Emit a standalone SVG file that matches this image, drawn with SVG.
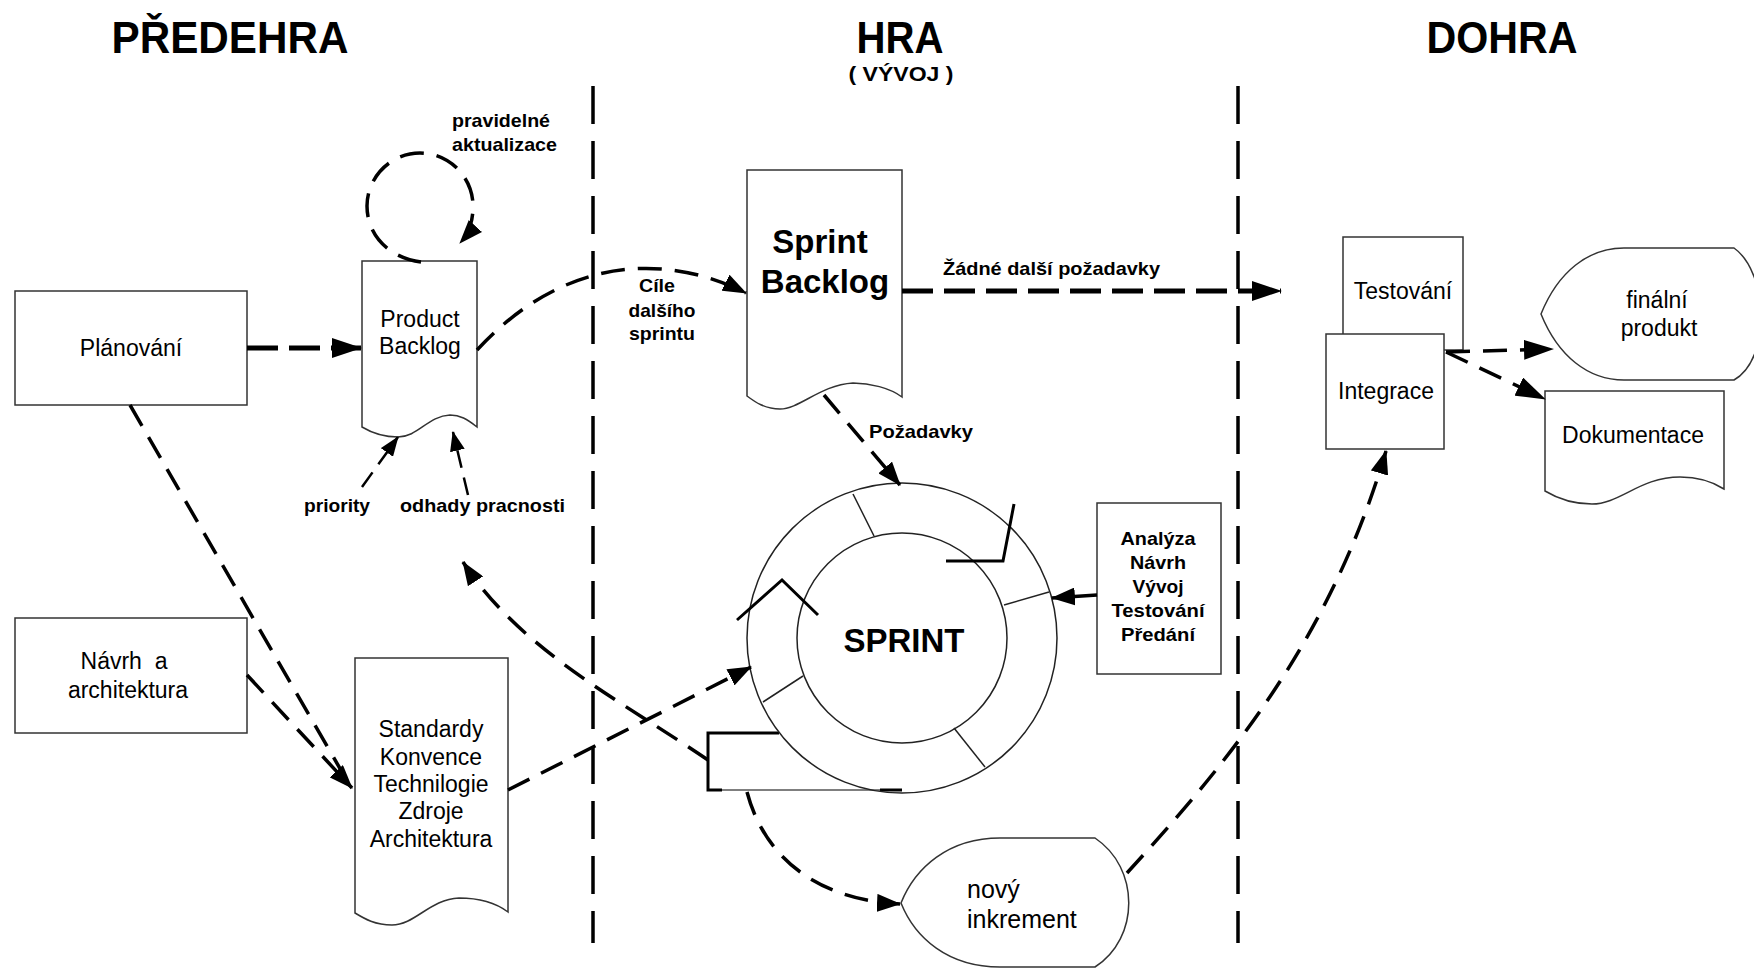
<svg xmlns="http://www.w3.org/2000/svg" width="1754" height="969" viewBox="0 0 1754 969">
<defs>
<style>
.t{font-family:"Liberation Sans",Arial,sans-serif;fill:#000}
.title{font-size:45px;font-weight:bold;text-anchor:middle}
.node{font-size:23px;text-anchor:middle}
.lbl{font-size:19px;font-weight:bold}
.shape{fill:#fff;stroke:#333;stroke-width:1.5}
.thin{fill:none;stroke:#222;stroke-width:1.5}
.c{fill:none;stroke:#000;stroke-width:3.5;stroke-dasharray:24 13}
.ck{fill:none;stroke:#000;stroke-width:5;stroke-dasharray:31 11}
.cs{fill:none;stroke:#000;stroke-width:2.5;stroke-dasharray:18 10}
.sep{fill:none;stroke:#000;stroke-width:3.5;stroke-dasharray:38 17}
.mark{fill:none;stroke:#000;stroke-width:3}
</style>
<marker id="ah" markerUnits="userSpaceOnUse" markerWidth="30" markerHeight="20" viewBox="0 0 30 20" refX="29" refY="10" orient="auto"><path d="M0,0 L30,10 L0,20 Z" fill="#000"/></marker>
<marker id="am" markerUnits="userSpaceOnUse" markerWidth="24" markerHeight="18" viewBox="0 0 24 18" refX="23" refY="9" orient="auto"><path d="M0,0 L24,9 L0,18 Z" fill="#000"/></marker>
<marker id="as" markerUnits="userSpaceOnUse" markerWidth="20" markerHeight="15" viewBox="0 0 20 15" refX="19" refY="7.5" orient="auto"><path d="M0,0 L20,7.5 L0,15 Z" fill="#000"/></marker>
</defs>
<rect width="1754" height="969" fill="#fff"/>

<g id="titles">
<text class="t title" x="230" y="53" textLength="237" lengthAdjust="spacingAndGlyphs">PŘEDEHRA</text>
<text class="t title" x="900" y="53" textLength="87" lengthAdjust="spacingAndGlyphs">HRA</text>
<text class="t" x="901" y="81" font-size="21" font-weight="bold" text-anchor="middle" textLength="105" lengthAdjust="spacingAndGlyphs">( VÝVOJ )</text>
<text class="t title" x="1502" y="53" textLength="151" lengthAdjust="spacingAndGlyphs">DOHRA</text>
</g>

<g id="separators">
<line class="sep" x1="593" y1="86" x2="593" y2="943"/>
<line class="sep" x1="1238" y1="86" x2="1238" y2="943"/>
</g>

<g id="planovani">
<rect class="shape" x="15" y="291" width="232" height="114"/>
<text class="t node" x="131" y="356" font-size="25">Plánování</text>
</g>

<g id="navrh">
<rect class="shape" x="15" y="618" width="232" height="115"/>
<text class="t node" x="124" y="669" font-size="24" xml:space="preserve">Návrh  a</text>
<text class="t node" x="128" y="698" font-size="24">architektura</text>
</g>

<g id="product-backlog">
<path class="shape" d="M362,261 L477,261 L477,427 C 467,419 460,415 450,415 C 428,416 418,437 398,437 C 383,437 372,433 362,427 Z"/>
<text class="t node" x="420" y="327" font-size="22">Product</text>
<text class="t node" x="420" y="354" font-size="22">Backlog</text>
</g>

<g id="standardy">
<path class="shape" d="M355,658 L508,658 L508,912 C 496,903 481,898 459,898 C 430,899 415,925 392,925 C 375,925 365,919 355,913 Z"/>
<text class="t node" x="431" y="737">Standardy</text>
<text class="t node" x="431" y="765">Konvence</text>
<text class="t node" x="431" y="792">Technilogie</text>
<text class="t node" x="431" y="819">Zdroje</text>
<text class="t node" x="431" y="847">Architektura</text>
</g>

<g id="sprint-backlog">
<path class="shape" d="M747,170 L902,170 L902,397 C 890,388 870,383 853,383 C 820,385 800,409 780,409 C 765,409 755,402 747,396 Z"/>
<text class="t" x="820" y="253" font-size="33" font-weight="bold" text-anchor="middle">Sprint</text>
<text class="t" x="825" y="293" font-size="33" font-weight="bold" text-anchor="middle">Backlog</text>
</g>

<g id="sprint">
<path d="M779,733 L708,733 L708,790 L722,790" class="mark"/>
<line x1="722" y1="790" x2="880" y2="790" stroke="#555" stroke-width="1.5"/>
<line x1="880" y1="790" x2="902" y2="790" stroke="#000" stroke-width="3"/>
<circle class="thin" cx="902" cy="638" r="155" fill="#fff"/>
<circle class="thin" cx="902" cy="638" r="105"/>
<line class="thin" x1="853" y1="494" x2="874" y2="536"/>
<line class="thin" x1="1004" y1="605" x2="1049" y2="592"/>
<line class="thin" x1="763" y1="702" x2="803" y2="676"/>
<line class="thin" x1="954" y1="728" x2="985" y2="767"/>
<polyline class="mark" points="946,561 1003,561 1014,504"/>
<polyline class="mark" points="737,620 782,580 818,615"/>
<text class="t" x="904" y="652" font-size="33" font-weight="bold" text-anchor="middle">SPRINT</text>
</g>

<g id="analyza">
<rect class="shape" x="1097" y="503" width="124" height="171"/>
<text class="t lbl" x="1158" y="545" text-anchor="middle" textLength="75" lengthAdjust="spacingAndGlyphs">Analýza</text>
<text class="t lbl" x="1158" y="569" text-anchor="middle" textLength="56" lengthAdjust="spacingAndGlyphs">Návrh</text>
<text class="t lbl" x="1158" y="593" text-anchor="middle" textLength="51" lengthAdjust="spacingAndGlyphs">Vývoj</text>
<text class="t lbl" x="1158" y="617" text-anchor="middle" textLength="93" lengthAdjust="spacingAndGlyphs">Testování</text>
<text class="t lbl" x="1158" y="641" text-anchor="middle" textLength="74" lengthAdjust="spacingAndGlyphs">Předání</text>
</g>

<g id="novy-inkrement">
<path class="shape" d="M901,903 C 915,868 948,838 1000,838 L1095,838 C 1140,868 1140,938 1095,967 L1000,967 C 948,967 915,938 901,903 Z"/>
<text class="t" x="967" y="898" font-size="25">nový</text>
<text class="t" x="967" y="928" font-size="25">inkrement</text>
</g>

<g id="testovani">
<rect class="shape" x="1343" y="237" width="120" height="113"/>
<text class="t node" x="1403" y="299" font-size="22">Testování</text>
</g>

<g id="integrace">
<rect class="shape" x="1326" y="334" width="118" height="115"/>
<text class="t node" x="1386" y="399" font-size="22">Integrace</text>
</g>

<g id="finalni-produkt">
<path class="shape" d="M1541,314 C 1558,272 1588,248 1624,248 L1734,248 C 1768,272 1772,358 1734,380 L1624,380 C 1588,380 1558,356 1541,314 Z"/>
<text class="t node" x="1657" y="308" font-size="22">finální</text>
<text class="t node" x="1659" y="336" font-size="22">produkt</text>
</g>

<g id="dokumentace">
<path class="shape" d="M1545,391 L1724,391 L1724,489 C 1710,480 1695,477 1680,477 C 1640,477 1620,504 1592,504 C 1570,504 1555,497 1545,491 Z"/>
<text class="t node" x="1633" y="443" font-size="22">Dokumentace</text>
</g>

<g id="connectors">
<path class="ck" d="M247,348 L361,348" stroke-dasharray="30 13" marker-end="url(#ah)"/>
<path class="c" d="M421,262 C 390,258 367,236 367,206 C 367,177 391,153 420,153 C 449,153 473,177 473,206 C 473,220 470,232 460,243" stroke-dasharray="20 12" marker-end="url(#am)"/>
<path class="c" d="M130,405 L342,772" stroke-dasharray="25 13"/>
<path class="c" d="M247,675 L352,788" stroke-dasharray="25 13" marker-end="url(#am)"/>
<path class="c" d="M477,350 C 560,260 660,250 746,293" stroke-dasharray="24 13" marker-end="url(#am)"/>
<path class="ck" d="M902,291 L1281,291" marker-end="url(#ah)"/>
<path class="c" d="M824,395 L900,485" stroke-dasharray="22 16" marker-end="url(#am)"/>
<path class="cs" d="M362,487 L398,437" marker-end="url(#as)"/>
<path class="cs" d="M468,495 L453,432" marker-end="url(#as)"/>
<path class="c" d="M508,790 L751,667" marker-end="url(#am)"/>
<path class="c" d="M708,760 C 620,700 520,650 463,562" marker-end="url(#am)"/>
<path class="c" d="M747,792 C 765,860 820,900 900,904" marker-end="url(#am)"/>
<path class="c" d="M1127,873 C 1230,760 1330,640 1386,451" marker-end="url(#am)"/>
<path class="c" d="M1446,352 L1553,349" stroke-width="4.5" marker-end="url(#ah)"/>
<path class="c" d="M1446,352 L1545,399" stroke-width="4.5" marker-end="url(#ah)"/>
<path d="M1097,595 L1052,598" fill="none" stroke="#000" stroke-width="3.5" marker-end="url(#am)"/>
</g>

<g id="labels">
<text class="t lbl" x="452" y="127" textLength="98" lengthAdjust="spacingAndGlyphs">pravidelné</text>
<text class="t lbl" x="452" y="151" textLength="105" lengthAdjust="spacingAndGlyphs">aktualizace</text>
<text class="t lbl" x="657" y="292" text-anchor="middle" textLength="36" lengthAdjust="spacingAndGlyphs">Cíle</text>
<text class="t lbl" x="662" y="317" text-anchor="middle" textLength="67" lengthAdjust="spacingAndGlyphs">dalšího</text>
<text class="t lbl" x="662" y="340" text-anchor="middle" textLength="66" lengthAdjust="spacingAndGlyphs">sprintu</text>
<text class="t lbl" x="943" y="275" textLength="217" lengthAdjust="spacingAndGlyphs">Žádné další požadavky</text>
<text class="t lbl" x="869" y="438" textLength="104" lengthAdjust="spacingAndGlyphs">Požadavky</text>
<text class="t lbl" x="304" y="512" textLength="66" lengthAdjust="spacingAndGlyphs">priority</text>
<text class="t lbl" x="400" y="512" textLength="165" lengthAdjust="spacingAndGlyphs">odhady pracnosti</text>
</g>
</svg>
